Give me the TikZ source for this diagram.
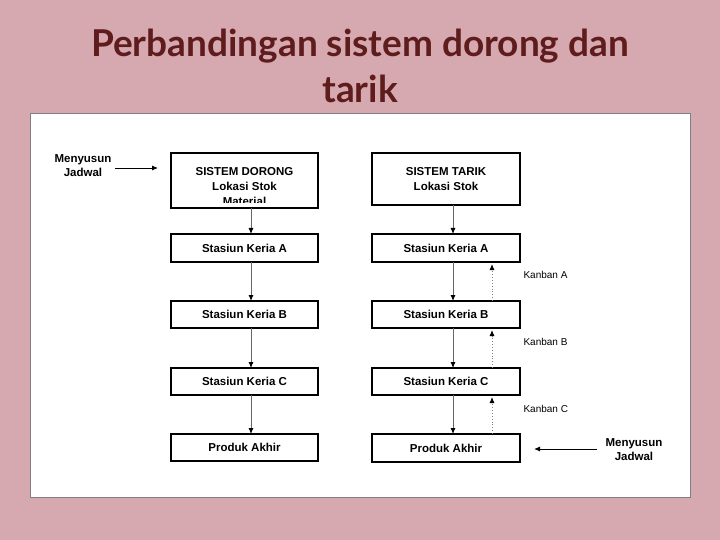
\documentclass[tikz,border=0pt]{standalone}
\usepackage{fontspec}
\setmainfont{Liberation Sans}
\newfontfamily\titlefont{Lato}
\usetikzlibrary{arrows.meta}
\begin{document}
\begin{tikzpicture}[x=1pt,y=-1pt,
  box/.style={draw=black,line width=1.2pt,fill=white,font=\bfseries\fontsize{11.5}{13}\selectfont,inner sep=0pt},
  down/.style={draw=gray!80!black,line width=0.9pt,-{Latex[length=6pt,width=5pt,color=black]}},
  up/.style={draw=gray,dotted,line width=0.9pt,-{Latex[length=6pt,width=5pt,color=black]}},
  lbl/.style={font=\fontsize{10}{11}\selectfont,anchor=west},
  sch/.style={font=\bfseries\fontsize{11.5}{14}\selectfont,align=center}]
\fill[fill={rgb,255:red,214;green,168;blue,176}] (0,0) rectangle (720,540);
\useasboundingbox (0,0) rectangle (720,540);
\node[font=\titlefont\bfseries\fontsize{37}{46}\selectfont,text={rgb,255:red,95;green,28;blue,28},align=center] (title) at (360,66) {Perbandingan sistem dorong dan\\tarik};
\node[draw=gray,fill=white,minimum width=660pt,minimum height=384pt,inner sep=0pt] (panel) at (360,305) {};
% left column
\node[box,minimum width=147pt,minimum height=55pt] (d0) at (244.5,180.5) {};
\begin{scope}
\clip (172,154) rectangle (317,203);
\node[sch,font=\bfseries\fontsize{11.5}{15}\selectfont] (d0t) at (244.5,187) {SISTEM DORONG\\Lokasi Stok\\Material};
\end{scope}
\node[box,minimum width=147pt,minimum height=28pt] (dA) at (244.5,248) {Stasiun Keria A};
\node[box,minimum width=147pt,minimum height=27pt] (dB) at (244.5,314.5) {Stasiun Keria B};
\node[box,minimum width=147pt,minimum height=27pt] (dC) at (244.5,381.5) {Stasiun Keria C};
\node[box,minimum width=147pt,minimum height=27pt] (dP) at (244.5,447.5) {Produk Akhir};
\node[sch] (jl) at (83,166) {Menyusun\\Jadwal};
\coordinate (jls) at (115,168);
\coordinate (jle) at (158,168);
\draw[line width=0.9pt,-{Latex[length=6pt,width=5pt]}] (jls) -- (jle);
\draw[down] (251,208) -- (251,234);
\draw[down] (251,262) -- (251,301);
\draw[down] (251,328) -- (251,368);
\draw[down] (251,395) -- (251,434);
% right column
\node[box,minimum width=148pt,minimum height=52pt,align=center,font=\bfseries\fontsize{11.5}{15}\selectfont] (t0) at (446,179) {SISTEM TARIK\\Lokasi Stok};
\node[box,minimum width=148pt,minimum height=28pt] (tA) at (446,248) {Stasiun Keria A};
\node[box,minimum width=148pt,minimum height=27pt] (tB) at (446,314.5) {Stasiun Keria B};
\node[box,minimum width=148pt,minimum height=27pt] (tC) at (446,381.5) {Stasiun Keria C};
\node[box,minimum width=148pt,minimum height=28pt] (tP) at (446,448) {Produk Akhir};
\draw[down] (453,205) -- (453,234);
\draw[down] (453,262) -- (453,301);
\draw[down] (453,328) -- (453,368);
\draw[down] (453,395) -- (453,434);
\draw[up] (492,301) -- (492,264);
\draw[up] (492,368) -- (492,330);
\draw[up] (492,434) -- (492,397);
\node[lbl] (kA) at (520,275) {Kanban A};
\node[lbl] (kB) at (520,342) {Kanban B};
\node[lbl] (kC) at (520,409) {Kanban C};
\node[sch] (jr) at (634,450) {Menyusun\\Jadwal};
\coordinate (jrs) at (597,449);
\coordinate (jre) at (534,449);
\draw[line width=0.9pt,-{Latex[length=6pt,width=5pt]}] (jrs) -- (jre);
\end{tikzpicture}
\end{document}
